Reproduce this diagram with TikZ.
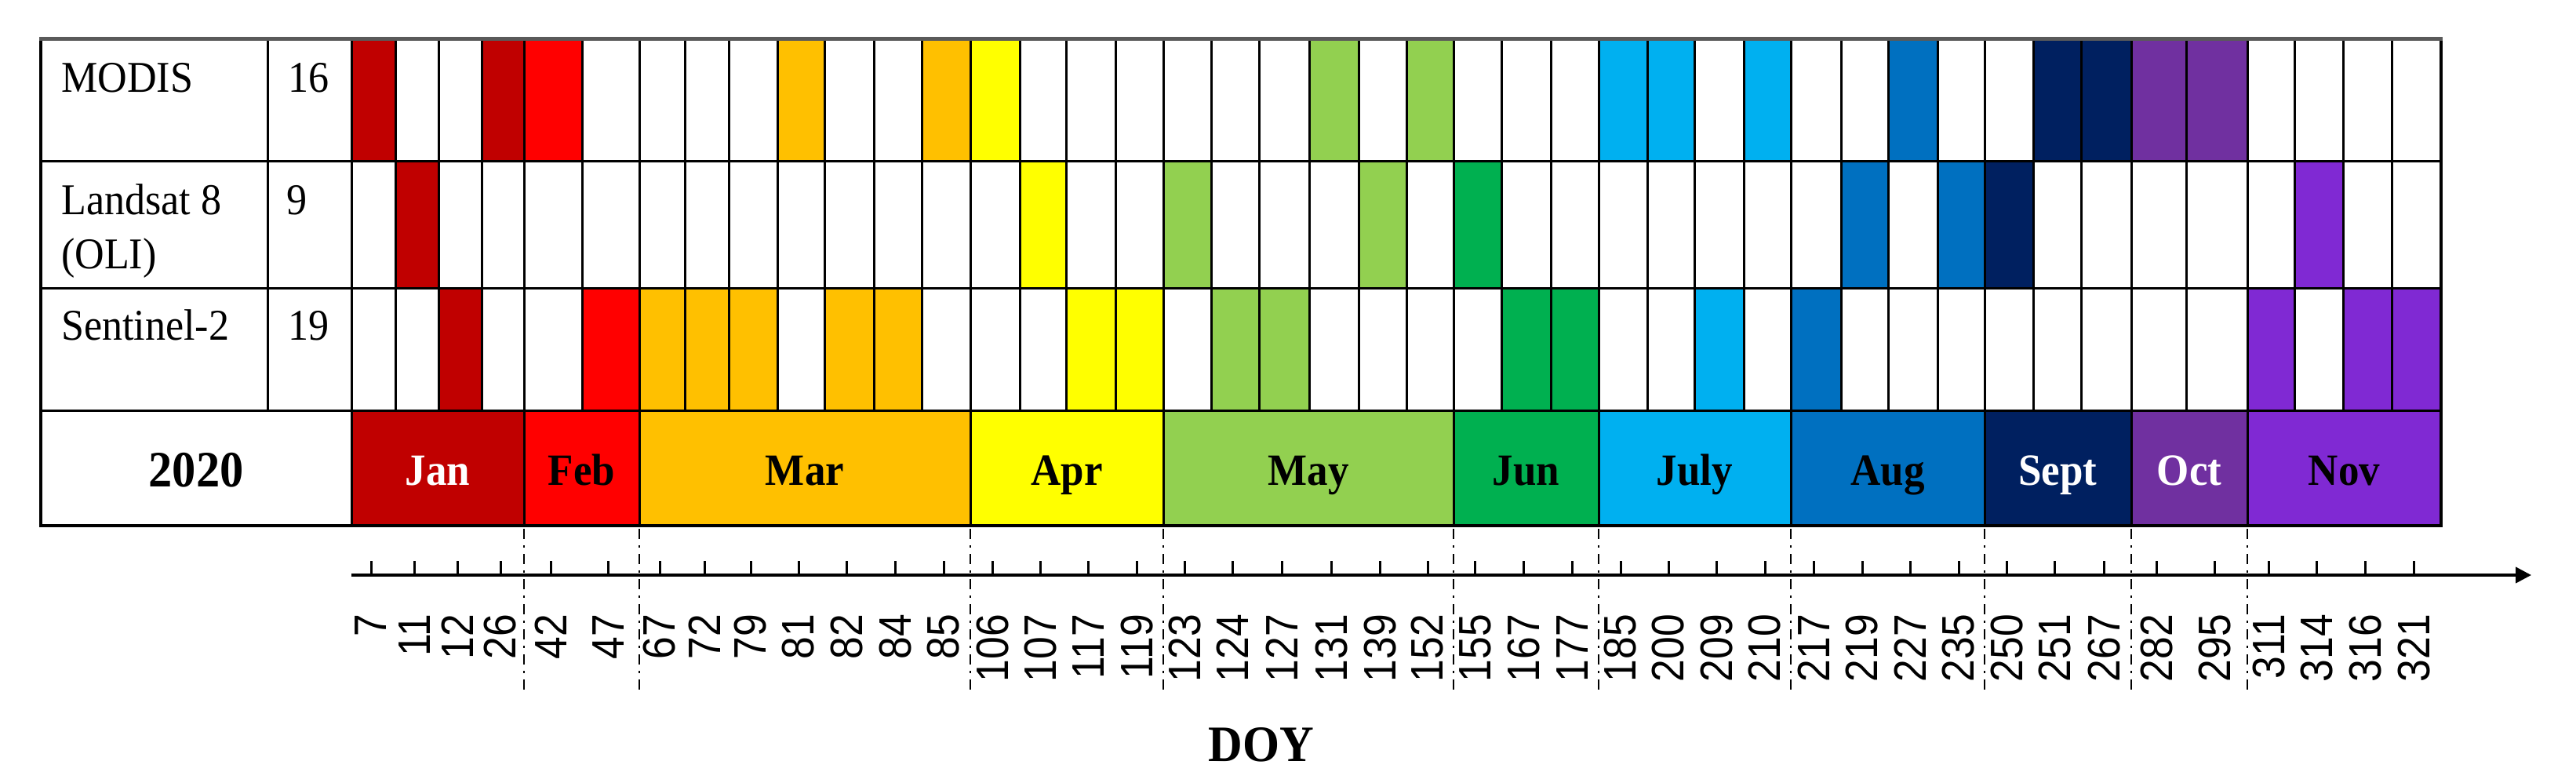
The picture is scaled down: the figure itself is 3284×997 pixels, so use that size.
\documentclass[tikz,border=0pt]{standalone}
\usepackage{fontspec}
\setmainfont[FakeStretch=0.93]{Liberation Serif}
\newfontfamily\doyfont[FakeStretch=0.89]{Liberation Sans}
\usetikzlibrary{arrows.meta}
\definecolor{cJan}{HTML}{C00000}
\definecolor{cFeb}{HTML}{FF0000}
\definecolor{cMar}{HTML}{FFC000}
\definecolor{cApr}{HTML}{FFFF00}
\definecolor{cMay}{HTML}{92D050}
\definecolor{cJun}{HTML}{00B050}
\definecolor{cJul}{HTML}{00B0F0}
\definecolor{cAug}{HTML}{0070C0}
\definecolor{cSep}{HTML}{002060}
\definecolor{cOct}{HTML}{7030A0}
\definecolor{cNov}{HTML}{8029D3}
\definecolor{topgray}{HTML}{5A5A5A}
\begin{document}
\begin{tikzpicture}[x=1pt,y=-1pt,
  gridline/.style={line width=3pt, black},
  outerline/.style={line width=3.5pt, black},
  rowlabel/.style={font=\fontsize{56}{60}\selectfont, inner sep=0pt, anchor=base west},
  monthlabel/.style={font=\bfseries\fontsize{57}{60}\selectfont, inner sep=0pt, anchor=base},
  biglabel/.style={font=\bfseries\fontsize{65}{70}\selectfont, inner sep=0pt, anchor=base},
  doylabel/.style={font=\doyfont\fontsize{58}{60}\selectfont, inner sep=0pt, rotate=90, anchor=east},
  monthsep/.style={line width=2.5pt, dash pattern=on 13pt off 8pt on 3pt off 8pt},
  tickmark/.style={line width=3pt},
  axisline/.style={line width=4pt, -{Triangle[length=20pt,width=20pt]}}]
\useasboundingbox (0,0) rectangle (3284,997);
% --- MODIS row fills
\foreach \l/\r/\c in {448/504/cJan,614/668/cJan,668/742/cFeb,991/1051/cMar,1175/1237/cMar,
  1237/1300/cApr,1669/1732/cMay,1793/1853/cMay,2038/2100/cJul,2100/2160/cJul,2223/2283/cJul,
  2407/2470/cAug,2592/2653/cSep,2653/2717/cSep,2717/2787/cOct,2787/2865/cOct}
  \fill[\c] (\l,48) rectangle (\r,205);
% --- Landsat row fills
\foreach \l/\r/\c in {504/559/cJan,1300/1359/cApr,1483/1544/cMay,1732/1793/cMay,1853/1914/cJun,
  2347/2407/cAug,2470/2530/cAug,2530/2592/cSep,2925/2987/cNov}
  \fill[\c] (\l,205) rectangle (\r,367);
% --- Sentinel row fills
\foreach \l/\r/\c in {559/614/cJan,742/815/cFeb,815/873/cMar,873/929/cMar,929/991/cMar,
  1051/1114/cMar,1114/1175/cMar,1359/1422/cApr,1422/1483/cApr,1544/1605/cMay,1605/1669/cMay,
  1914/1977/cJun,1977/2038/cJun,2160/2223/cJul,2283/2347/cAug,2865/2925/cNov,2987/3049/cNov,
  3049/3112/cNov}
  \fill[\c] (\l,367) rectangle (\r,523);
% --- month row
\foreach \l/\r/\c/\t/\tc [count=\i] in {448/668/cJan/Jan/white,668/815/cFeb/Feb/black,
  815/1237/cMar/Mar/black,1237/1483/cApr/Apr/black,1483/1853/cMay/May/black,
  1853/2038/cJun/Jun/black,2038/2283/cJul/July/black,2283/2530/cAug/Aug/black,
  2530/2717/cSep/Sept/white,2717/2865/cOct/Oct/white,2865/3112/cNov/Nov/black}
  {\fill[\c] (\l,523) rectangle (\r,670);
   \node[monthlabel,text=\tc] (m\i) at ({(\l+\r)/2},618) {\t};}
% --- grid lines
\foreach \y in {205,367,523} \draw[gridline] (52,\y) -- (3112,\y);
\draw[gridline] (341,48) -- (341,523);
\draw[gridline] (448,48) -- (448,670);
\foreach \x in {504,559,614,668,742,815,873,929,991,1051,1114,1175,1237,1300,1359,1422,1483,
  1544,1605,1669,1732,1793,1853,1914,1977,2038,2100,2160,2223,2283,2347,2407,2470,2530,2592,
  2653,2717,2787,2865,2925,2987,3049}
  \draw[gridline] (\x,48) -- (\x,523);
\foreach \x in {668,815,1237,1483,1853,2038,2283,2530,2717,2865}
  {\draw[gridline] (\x,523) -- (\x,670);
   \draw[monthsep] (\x,674) -- (\x,882);}
\draw[outerline] (52,48) -- (52,670) -- (3112,670) -- (3112,48);
\draw[line width=5pt, topgray] (50,49) -- (3114,49);
% --- row labels
\node[rowlabel] (modis) at (78,117) {MODIS};
\node[rowlabel] (landsat) at (78,273) {Landsat 8};
\node[rowlabel] (oli) at (78,342) {(OLI)};
\node[rowlabel] (sentinel) at (78,433) {Sentinel-2};
\node[rowlabel] (nmodis) at (367,117) {16};
\node[rowlabel] (nlandsat) at (365,273) {9};
\node[rowlabel] (nsentinel) at (367,433) {19};
\node[biglabel] (year) at (250,620) {2020};
% --- axis
\coordinate (axs) at (448,733);
\coordinate (axe) at (3227,733);
\draw[axisline] (axs) -- (axe);
\foreach \l/\r/\d [count=\i] in {448/504/7,504/559/11,559/614/12,614/668/26,668/742/42,
  742/815/47,815/873/67,873/929/72,929/991/79,991/1051/81,1051/1114/82,1114/1175/84,
  1175/1237/85,1237/1300/106,1300/1359/107,1359/1422/117,1422/1483/119,1483/1544/123,
  1544/1605/124,1605/1669/127,1669/1732/131,1732/1793/139,1793/1853/152,1853/1914/155,
  1914/1977/167,1977/2038/177,2038/2100/185,2100/2160/200,2160/2223/209,2223/2283/210,
  2283/2347/217,2347/2407/219,2407/2470/227,2470/2530/235,2530/2592/250,2592/2653/251,
  2653/2717/267,2717/2787/282,2787/2865/295,2865/2925/311,2925/2987/314,2987/3049/316,
  3049/3112/321}
  {\draw[tickmark] ({(\l+\r)/2-3},715) -- ({(\l+\r)/2-3},733);
   \node[doylabel] (d\i) at ({(\l+\r)/2-3},783) {\d};}
\node[biglabel] (doy) at (1608,970) {DOY};
\end{tikzpicture}
\end{document}
